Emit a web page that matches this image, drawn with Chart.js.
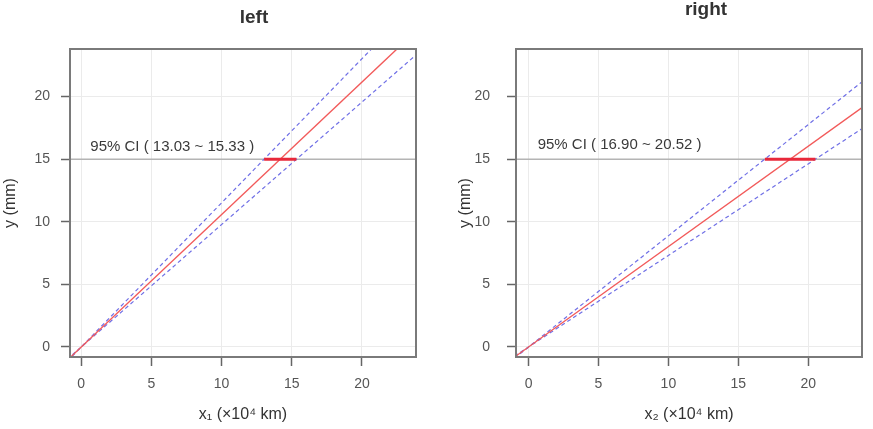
<!DOCTYPE html>
<html>
<head>
<meta charset="utf-8">
<script src="https://cdn.jsdelivr.net/npm/chart.js@4.4.1/dist/chart.umd.min.js"></script>
<style>
  body { margin: 0; background: #fff; }
  .panel { position: absolute; top: 0; }
</style>
</head>
<body>
<div class="panel" style="left:0"><canvas id="leftChart" width="436" height="429"></canvas></div>
<div class="panel" style="left:436px"><canvas id="rightChart" width="437" height="429"></canvas></div>
<script>
const xTicks = [0, 5, 10, 15, 20];
const yTicks = [0, 5, 10, 15, 20];
const lineX = [-1, 25];

// left panel
const leftFit = [-1.06, 26.45];
const leftUpper = [-1.15, 28.78];
const leftLower = [-0.98, 24.45];
const leftCI = [13.03, 15.33];

// right panel
const rightFit = [-0.80, 20.04];
const rightUpper = [-0.89, 22.20];
const rightLower = [-0.73, 18.28];
const rightCI = [16.90, 20.52];

const refY = 15;

const font = '"Liberation Sans", Arial, sans-serif';

function pts(xs, ys) {
  return xs.map((x, i) => ({ x: x, y: ys[i] }));
}

const boxPlugin = {
  id: 'box',
  afterDatasetsDraw(chart, args, opts) {
    const ctx = chart.ctx;
    const xs = chart.scales.x, ys = chart.scales.y;
    // annotation text
    ctx.save();
    ctx.font = '15px ' + font;
    ctx.fillStyle = '#3a3a3a';
    ctx.textAlign = 'left';
    ctx.textBaseline = 'middle';
    ctx.fillText(opts.label, xs.getPixelForValue(opts.labelAt[0]), ys.getPixelForValue(opts.labelAt[1]));
    ctx.restore();
  },
  afterDraw(chart, args, opts) {
    const ctx = chart.ctx;
    const a = chart.chartArea;
    ctx.save();
    ctx.strokeStyle = '#7a7a7a';
    ctx.lineWidth = 2;
    ctx.strokeRect(a.left, a.top, a.right - a.left, a.bottom - a.top);
    // panel title
    ctx.font = 'bold 19px ' + font;
    ctx.fillStyle = '#333';
    ctx.textAlign = 'center';
    ctx.textBaseline = 'alphabetic';
    ctx.fillText(opts.title, opts.titlePos[0], opts.titlePos[1]);
    ctx.restore();
  }
};

function makeChart(id, o) {
  const ctx = document.getElementById(id).getContext('2d');
  return new Chart(ctx, {
    type: 'scatter',
    data: {
      datasets: [
        { data: pts(lineX, [refY, refY]), order: 5, showLine: true, borderColor: '#b4b4b4', borderWidth: 1.5, pointRadius: 0 },
        { data: pts(lineX, o.upper), order: 4, showLine: true, borderColor: '#6f6fe6', borderWidth: 1.2, borderDash: [4, 3], pointRadius: 0 },
        { data: pts(lineX, o.lower), order: 4, showLine: true, borderColor: '#6f6fe6', borderWidth: 1.2, borderDash: [4, 3], pointRadius: 0 },
        { data: pts(lineX, o.fit), order: 3, showLine: true, borderColor: '#f25a5a', borderWidth: 1.4, pointRadius: 0 },
        { data: pts(o.ci, [refY, refY]), order: 1, showLine: true, borderColor: '#e8283a', borderWidth: 3, pointRadius: 0 }
      ]
    },
    options: {
      responsive: false,
      animation: false,
      layout: { padding: { left: 0, right: o.padRight, top: 49, bottom: 0 } },
      plugins: {
        legend: { display: false },
        tooltip: { enabled: false },
        box: { title: o.title, titlePos: o.titlePos, label: o.label, labelAt: o.labelAt }
      },
      scales: {
        x: {
          type: 'linear',
          min: o.xMin, max: 23.85,
          afterBuildTicks: s => { s.ticks = xTicks.map(v => ({ value: v })); },
          afterFit: s => { s.height = 72; },
          border: { display: false },
          grid: { color: '#ebebeb', lineWidth: 1, tickColor: '#666', tickLength: 9, tickWidth: 1.5 },
          ticks: { color: '#555', font: { family: font, size: 14 }, padding: 10 },
          title: { display: true, text: o.xTitle, color: '#333', font: { family: font, size: 16 }, padding: { top: 0, bottom: 5 } }
        },
        y: {
          type: 'linear',
          min: -0.8, max: 23.8,
          afterBuildTicks: s => { s.ticks = yTicks.map(v => ({ value: v })); },
          afterFit: s => { s.width = o.yWidth; },
          border: { display: false },
          grid: { color: '#ebebeb', lineWidth: 1, tickColor: '#666', tickLength: 9, tickWidth: 1.5 },
          ticks: { color: '#555', font: { family: font, size: 14 }, padding: o.yPad },
          title: { display: true, text: 'y (mm)', color: '#333', font: { family: font, size: 16 }, padding: { top: o.yTitlePad, bottom: 0 } }
        }
      }
    },
    plugins: [boxPlugin]
  });
}

makeChart('leftChart', {
  fit: leftFit, upper: leftUpper, lower: leftLower, ci: leftCI,
  title: 'left', titlePos: [254, 23],
  label: '95% CI ( 13.03 ~ 15.33 )', labelAt: [0.65, 16.0],
  xTitle: 'x\u2081 (\u00d710\u2074 km)', xMin: -0.8,
  padRight: 20, yWidth: 70, yPad: 11, yTitlePad: 1
});

makeChart('rightChart', {
  fit: rightFit, upper: rightUpper, lower: rightLower, ci: rightCI,
  title: 'right', titlePos: [270, 15],
  label: '95% CI ( 16.90 ~ 20.52 )', labelAt: [0.65, 16.15],
  xTitle: 'x\u2082 (\u00d710\u2074 km)', xMin: -0.9,
  padRight: 11, yWidth: 80, yPad: 17, yTitlePad: 20
});
</script>
</body>
</html>
